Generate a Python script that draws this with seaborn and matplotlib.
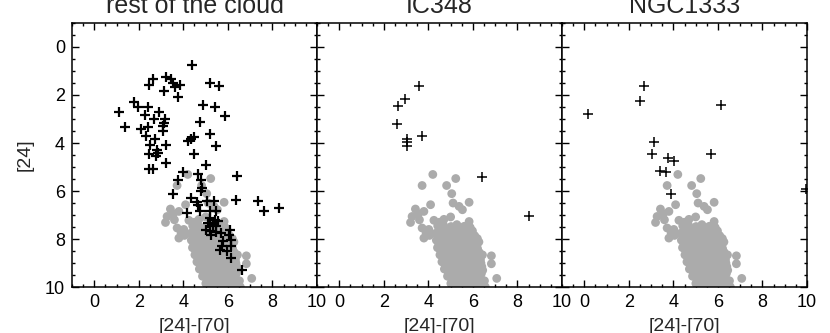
import numpy as np
import seaborn as sns
import matplotlib.pyplot as plt
from matplotlib.ticker import MultipleLocator

# background population (same grey cloud in every panel): [24]-[70] colour, [24] magnitude
cloud_x = [4.20, 5.23, 3.72, 4.82, 5.05, 5.11, 5.83, 4.10, 5.53, 5.38, 3.42, 3.80,
           3.27, 3.20, 3.60, 4.25, 5.00, 5.83, 4.50, 3.72, 4.02, 3.80, 3.90, 6.83,
           6.83, 7.07, 6.43, 6.22, 3.55, 4.05, 4.70,
           4.42, 4.68, 5.02, 5.28, 5.61, 5.88,
           4.50, 4.82, 5.12, 5.43, 5.72, 5.98,
           4.33, 4.66, 4.97, 5.24, 5.57, 5.84, 6.08,
           4.48, 4.79, 5.08, 5.39, 5.70, 5.97, 6.20,
           4.36, 4.61, 4.92, 5.18, 5.52, 5.79, 6.06, 6.27,
           4.47, 4.76, 5.06, 5.36, 5.66, 5.95, 6.18,
           4.41, 4.72, 4.98, 5.31, 5.62, 5.91, 6.21,
           4.56, 4.86, 5.16, 5.46, 5.76, 6.06, 6.28,
           4.52, 4.79, 5.12, 5.41, 5.68, 6.02, 6.31,
           4.66, 4.96, 5.26, 5.56, 5.86, 6.16, 6.34,
           4.61, 4.91, 5.19, 5.52, 5.81, 6.09, 6.36,
           4.76, 5.06, 5.36, 5.66, 5.96, 6.26, 6.40,
           4.72, 5.01, 5.32, 5.58, 5.92, 6.18, 6.44,
           4.90, 5.20, 5.50, 5.80, 6.10, 6.38,
           4.86, 5.14, 5.46, 5.77, 6.04, 6.33,
           5.06, 5.36, 5.66, 5.96, 6.26, 6.52,
           5.01, 5.29, 5.61, 5.89, 6.21, 6.49,
           5.10, 5.40, 5.70, 6.00, 6.30, 6.56,
           5.16, 5.44, 5.76, 6.06, 6.34, 6.58]
cloud_y = [5.31, 5.48, 5.77, 5.77, 6.11, 6.50, 6.47, 6.57, 6.78, 6.64, 6.75, 6.85,
           7.06, 7.31, 7.20, 7.22, 7.08, 7.27, 7.30, 7.54, 7.60, 7.96, 7.75, 8.70,
           9.03, 9.64, 8.66, 8.62, 6.95, 7.85, 7.18,
           7.45, 7.42, 7.48, 7.40, 7.47, 7.52,
           7.60, 7.62, 7.58, 7.61, 7.63, 7.66,
           7.76, 7.73, 7.78, 7.74, 7.77, 7.80, 7.86,
           7.90, 7.92, 7.89, 7.91, 7.93, 7.95, 7.98,
           8.05, 8.08, 8.03, 8.06, 8.04, 8.09, 8.05, 8.12,
           8.20, 8.22, 8.19, 8.21, 8.23, 8.20, 8.25,
           8.36, 8.33, 8.37, 8.34, 8.38, 8.35, 8.40,
           8.50, 8.52, 8.49, 8.51, 8.53, 8.50, 8.55,
           8.66, 8.64, 8.68, 8.63, 8.67, 8.65, 8.70,
           8.80, 8.82, 8.79, 8.81, 8.83, 8.80, 8.85,
           8.95, 8.97, 8.93, 8.96, 8.94, 8.98, 9.00,
           9.10, 9.12, 9.09, 9.11, 9.13, 9.10, 9.15,
           9.25, 9.27, 9.23, 9.26, 9.24, 9.28, 9.30,
           9.40, 9.42, 9.39, 9.41, 9.43, 9.44,
           9.55, 9.57, 9.53, 9.56, 9.54, 9.58,
           9.70, 9.72, 9.69, 9.71, 9.73, 9.74,
           9.85, 9.83, 9.87, 9.84, 9.86, 9.88,
           10.00, 10.02, 9.99, 10.01, 10.03, 10.00,
           10.10, 10.12, 10.08, 10.11, 10.09, 10.13]

# sources in each region
rest_x = [4.38, 2.66, 3.23, 3.45, 2.48, 3.53, 3.83, 3.62, 3.12, 5.21, 5.59, 3.75,
          1.80, 1.95, 2.43, 2.90, 1.13, 2.28, 2.67, 3.18, 3.15, 3.08, 3.08, 1.37,
          2.10, 2.40, 2.33, 2.73, 2.51, 3.20, 2.81, 2.88, 2.45, 2.78, 3.23, 2.45,
          2.66, 4.88, 5.41, 5.86, 4.77, 5.18, 5.45, 4.50, 4.35, 4.20, 4.47, 5.03,
          3.98, 3.75, 4.65, 4.80, 4.83, 4.80, 3.53, 6.41, 6.38, 4.35, 4.62, 4.65,
          5.06, 5.38, 4.16, 4.73, 7.36, 7.61, 8.30,
          5.18, 5.48, 5.18, 5.40, 5.56, 5.11, 5.33, 5.48, 5.03, 5.18, 5.48, 5.26,
          5.71, 6.08, 6.05, 6.15, 5.78, 5.75, 6.15, 5.63, 5.96, 6.13, 6.65]
rest_y = [0.74, 1.34, 1.23, 1.34, 1.59, 1.48, 1.59, 1.65, 1.83, 1.48, 1.62, 2.10,
          2.29, 2.52, 2.50, 2.69, 2.71, 2.85, 2.98, 2.98, 3.15, 3.29, 3.50, 3.32,
          3.40, 3.32, 3.71, 3.85, 4.09, 4.07, 4.30, 4.43, 4.44, 4.55, 4.83, 5.08,
          5.08, 2.41, 2.52, 2.87, 3.11, 3.64, 4.13, 3.75, 3.85, 3.92, 4.44, 4.92,
          5.22, 5.55, 5.31, 5.55, 5.87, 6.00, 6.12, 5.38, 6.39, 6.29, 6.47, 6.57,
          6.43, 6.43, 6.92, 6.85, 6.43, 6.82, 6.71,
          6.85, 6.85, 7.13, 7.20, 7.26, 7.34, 7.41, 7.47, 7.62, 7.65, 7.70, 7.82,
          7.73, 7.62, 7.82, 8.03, 8.10, 8.31, 8.30, 8.45, 8.48, 8.80, 9.29]

ic348_x = [3.57, 2.97, 2.64, 2.58, 3.05, 3.05, 3.02, 3.72, 6.43, 8.53]
ic348_y = [1.62, 2.18, 2.45, 3.19, 3.82, 3.96, 4.13, 3.71, 5.43, 7.06]

ngc1333_x = [0.19, 2.70, 2.48, 6.16, 3.12, 3.03, 3.75, 4.05, 3.38, 3.65, 5.71, 3.90, 9.95]
ngc1333_y = [2.80, 1.62, 2.27, 2.41, 3.95, 4.45, 4.64, 4.76, 5.18, 5.22, 4.45, 6.12, 5.92]

titles = ["rest of the cloud", "IC348", "NGC1333"]

sns.set_style("ticks")
plt.rcParams['font.family'] = ['Liberation Sans', 'DejaVu Sans']

fig, axes = plt.subplots(1, 3, figsize=(8.3, 3.33), dpi=100, sharey=True)
fig.subplots_adjust(left=0.0867, right=0.9723, bottom=0.138, top=0.931, wspace=0)

panels = [(rest_x, rest_y, 1.6), (ic348_x, ic348_y, 1.1), (ngc1333_x, ngc1333_y, 1.1)]
for i, (ax, (px, py, lw)) in enumerate(zip(axes, panels)):
    sns.scatterplot(x=cloud_x, y=cloud_y, ax=ax, color="#ababab", s=40,
                    linewidth=0, edgecolor="none", zorder=2)
    sns.scatterplot(x=px, y=py, ax=ax, color="black", marker="+", s=42,
                    linewidth=lw, zorder=3)
    ax.set_xlim(-1, 10)
    ax.set_ylim(10, -1)
    ax.xaxis.set_major_locator(MultipleLocator(2))
    ax.xaxis.set_minor_locator(MultipleLocator(0.5))
    ax.yaxis.set_major_locator(MultipleLocator(2))
    ax.yaxis.set_minor_locator(MultipleLocator(0.5))
    ax.tick_params(which="both", direction="in", top=True, right=True,
                   width=1.0, colors="black")
    ax.tick_params(which="major", length=5, labelsize=13, pad=5)
    ax.tick_params(which="minor", length=2.5)
    for sp in ax.spines.values():
        sp.set_linewidth(1.1)
        sp.set_color("black")
    ax.set_title(titles[i], fontsize=18, pad=7)
    ax.set_xlabel("[24]-[70]", fontsize=14, labelpad=5)
    if i == 0:
        ax.set_ylabel("[24]", fontsize=14, labelpad=8)
    else:
        ax.tick_params(labelleft=False)

fig.savefig("out.png", dpi=100)
